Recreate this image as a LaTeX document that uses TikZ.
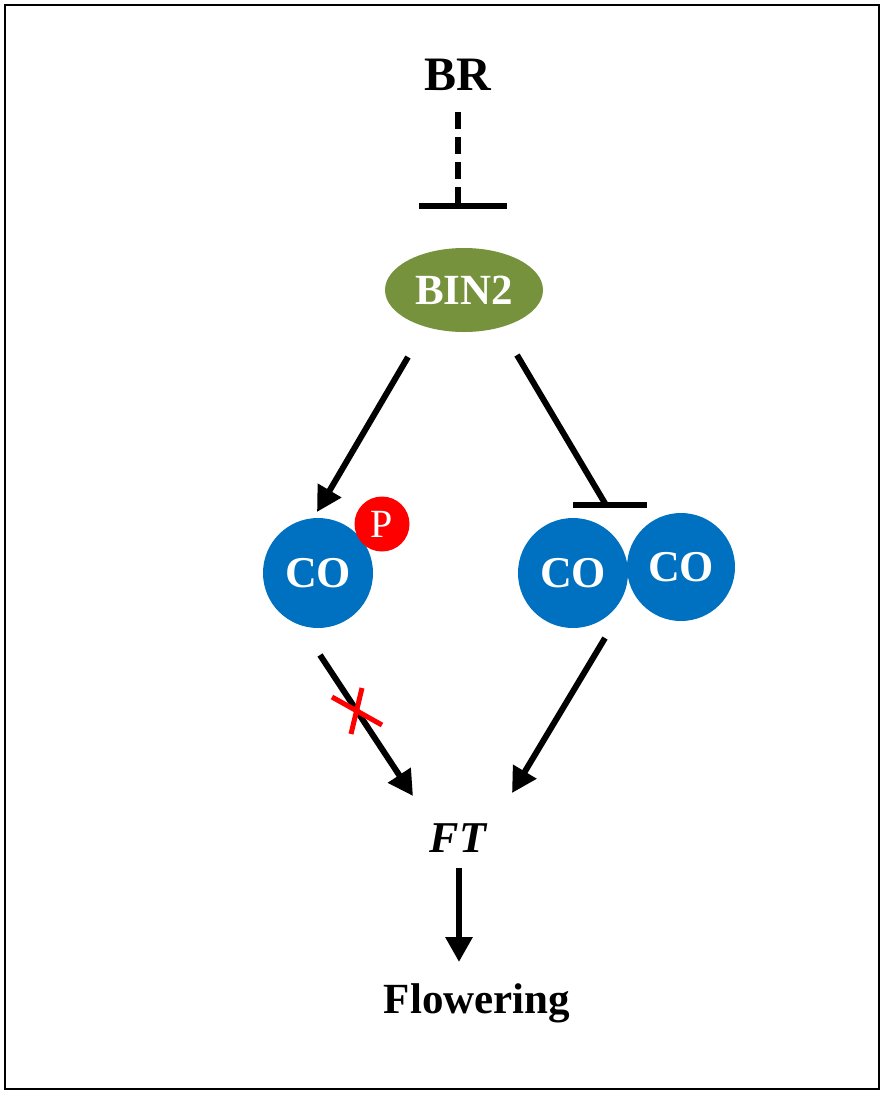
\documentclass[tikz,border=0pt]{standalone}
\usepackage{fontspec}
\setmainfont{Liberation Serif}
\usetikzlibrary{arrows.meta,shapes.geometric}

\definecolor{bingreen}{HTML}{76923C}
\definecolor{coblue}{HTML}{0070C0}
\definecolor{pred}{HTML}{FF0000}

\tikzset{
  lbl/.style={font=\fontsize{44}{48}\selectfont\bfseries, inner sep=0pt},
  prot/.style={circle, fill=coblue, minimum size=110pt, inner sep=0pt,
    text=white, font=\fontsize{44}{48}\selectfont\bfseries},
  act/.style={line width=6pt, -{Triangle[length=25pt,width=26pt]}},
  inh/.style={line width=6pt},
}

\begin{document}
\begin{tikzpicture}[x=1pt, y=-1pt]
      \useasboundingbox (0,0) rectangle (884,1096);
      \draw[line width=2.5pt] (5,5) rectangle (879,1089);

        % Nodes
        \node[lbl, font=\fontsize{48}{52}\selectfont\bfseries] (br) at (458,75) {BR};
        \node[ellipse, fill=bingreen, minimum width=158pt, minimum height=84pt,
          text=white, font=\fontsize{43}{46}\selectfont\bfseries] (bin) at (464,290) {BIN2};

        \node[prot] (co1) at (318,573) {CO};
        \node[circle, fill=pred, minimum size=55pt, inner sep=0pt, text=white,
          font=\fontsize{40}{44}\selectfont] (p) at (382,524) {P};

        \node[prot] (co2) at (573,573) {CO};
        \node[prot, minimum size=108pt] (co3) at (681,567) {CO};

        \node[lbl, font=\fontsize{44}{48}\selectfont\bfseries\itshape] (ft) at (458,838) {FT};
        \node[lbl, font=\fontsize{43}{46}\selectfont\bfseries] (fl) at (477,1003) {Flowering};

        % Ends of the connectors
        \coordinate (brout) at (458,112);
        \coordinate (binin) at (458,206);
        \coordinate (binl) at (408,357);
        \coordinate (binr) at (517,355);
        \coordinate (co1in) at (317,512);
        \coordinate (co2in) at (606,505);
        \coordinate (co1out) at (320,655);
        \coordinate (co2out) at (605,638);
        \coordinate (ftl) at (413,796);
        \coordinate (ftr) at (512,793);
        \coordinate (ftout) at (459,868);
        \coordinate (flin) at (459,962);

        \draw[inh, dash pattern=on 17pt off 8pt] (brout) -- (binin);
        \draw[inh] (419,206) -- (507,206);

        \draw[act] (binl) -- (co1in);
        \draw[inh] (binr) -- (co2in);
        \draw[inh] (573,505) -- (647,505);

        \draw[act] (co1out) -- (ftl);
        \draw[act] (co2out) -- (ftr);
        \draw[act] (ftout) -- (flin);

        %\fill (ft) circle (2pt);
        \draw[pred, line width=5pt] (332,697) -- (382,725);
        \draw[pred, line width=5pt] (362,688) -- (351,734);
    \end{tikzpicture}
\end{document}
